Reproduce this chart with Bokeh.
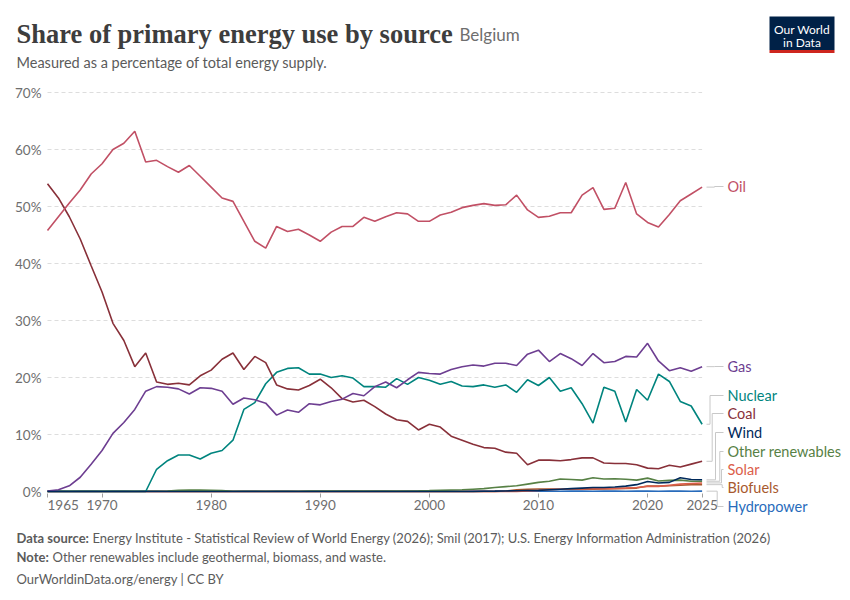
from bokeh.plotting import figure
from bokeh.models import Range1d, FixedTicker, ColumnDataSource
from bokeh.core.properties import value
from bokeh.embed import file_html
from bokeh.resources import INLINE

# ---------------- data ----------------
years = list(range(1965, 2026))

oil = [45.8, 48.2, 50.6, 52.9, 55.7, 57.5, 60.0, 61.1, 63.2, 57.8,
       58.1, 57.0, 56.0, 57.2, 55.3, 53.4, 51.5, 50.9, 47.4, 43.9,
       42.7, 46.5, 45.6, 46.0, 45.0, 43.9, 45.5, 46.5, 46.5, 48.1,
       47.4, 48.2, 48.9, 48.7, 47.4, 47.4, 48.5, 49.0, 49.8, 50.2,
       50.5, 50.2, 50.3, 52.0, 49.4, 48.1, 48.3, 48.9, 48.9, 52.0,
       53.3, 49.5, 49.7, 54.2, 48.7, 47.2, 46.4, 48.6, 51.0, 52.2,
       53.4]

coal = [54.0, 51.5, 48.2, 44.3, 39.6, 35.0, 29.5, 26.5, 21.9, 24.3,
        19.2, 18.8, 19.0, 18.7, 20.3, 21.3, 23.2, 24.3, 21.4, 23.7,
        22.6, 18.7, 18.0, 17.8, 18.6, 19.7, 18.2, 16.3, 15.7, 16.0,
        14.9, 13.6, 12.6, 12.3, 10.8, 11.8, 11.3, 9.7, 9.0, 8.3,
        7.7, 7.6, 6.9, 6.7, 4.7, 5.5, 5.5, 5.4, 5.6, 5.9,
        5.9, 5.0, 4.9, 4.9, 4.7, 4.1, 4.0, 4.6, 4.3, 4.8,
        5.3]

gas = [0.1, 0.3, 1.0, 2.5, 4.8, 7.2, 10.2, 12.1, 14.4, 17.6,
       18.4, 18.3, 18.0, 17.1, 18.2, 18.1, 17.6, 15.3, 16.4, 16.1,
       15.5, 13.4, 14.3, 13.9, 15.4, 15.2, 15.8, 16.2, 17.2, 16.8,
       18.4, 19.2, 18.2, 19.6, 20.9, 20.7, 20.6, 21.4, 21.9, 22.2,
       22.0, 22.5, 22.5, 22.1, 24.1, 24.8, 22.8, 24.2, 23.3, 22.1,
       24.2, 22.6, 22.8, 23.7, 23.6, 26.0, 22.9, 21.2, 21.7, 21.1,
       21.9]

nuclear = [0, 0, 0, 0, 0, 0, 0, 0, 0, 0,
           3.9, 5.4, 6.4, 6.4, 5.7, 6.7, 7.2, 9.0, 14.4, 15.6,
           18.9, 20.9, 21.6, 21.7, 20.6, 20.6, 20.0, 20.3, 19.9, 18.4,
           18.4, 18.3, 19.8, 18.8, 20.0, 19.5, 18.8, 19.3, 18.5, 18.4,
           18.7, 18.3, 18.7, 17.4, 19.6, 18.6, 20.0, 17.6, 18.2, 15.4,
           12.0, 18.3, 17.6, 12.2, 17.9, 16.0, 20.6, 19.3, 15.8, 15.0,
           11.8]

wind = [0] * 40 + [0.05, 0.07, 0.1, 0.12, 0.17, 0.2, 0.3, 0.4, 0.5, 0.6,
                   0.7, 0.7, 0.8, 0.95, 1.2, 1.75, 1.5, 1.6, 2.4, 2.1,
                   2.05]

other_renewables = ([0.05] * 11 + [0.1, 0.2, 0.25, 0.25, 0.2, 0.15] + [0.05] * 7 + [0.1] * 10 +
                    [0.12, 0.15, 0.2, 0.25, 0.3, 0.4, 0.5, 0.7, 0.85, 1.0,
                     1.3, 1.6, 1.8, 2.2, 2.1, 2.0, 2.4, 2.2, 2.25, 2.15,
                     2.0, 2.35, 1.85, 1.95, 2.0, 1.8, 1.8])

solar = [0] * 44 + [0.1, 0.2, 0.35, 0.4, 0.45, 0.45, 0.5, 0.5, 0.55, 0.6,
                    0.7, 0.9, 0.9, 1.1, 1.3, 1.4, 1.5]

biofuels = [0] * 42 + [0.1, 0.3, 0.4, 0.45, 0.45, 0.4, 0.4, 0.4, 0.4, 0.45,
                       0.5, 0.55, 0.6, 0.95, 0.95, 1.0, 1.1, 1.2, 1.2]

hydropower = [0.06, 0.06, 0.05, 0.06, 0.06, 0.05, 0.06, 0.06, 0.05, 0.06,
              0.06, 0.05, 0.06, 0.06, 0.05, 0.06, 0.06, 0.05, 0.06, 0.06,
              0.05, 0.06, 0.06, 0.05, 0.06, 0.06, 0.05, 0.06, 0.06, 0.05,
              0.06, 0.06, 0.05, 0.06, 0.06, 0.05, 0.06, 0.06, 0.05, 0.06,
              0.06, 0.05, 0.06, 0.06, 0.05, 0.06, 0.06, 0.05, 0.06, 0.06,
              0.05, 0.06, 0.06, 0.05, 0.06, 0.06, 0.05, 0.06, 0.06, 0.05,
              0.06]

y_ticks = [0, 10, 20, 30, 40, 50, 60, 70]
y_tick_labels = ["0%", "10%", "20%", "30%", "40%", "50%", "60%", "70%"]
x_ticks = [1965, 1970, 1980, 1990, 2000, 2010, 2020, 2025]

series = {
    "Oil": oil, "Gas": gas, "Nuclear": nuclear, "Coal": coal, "Wind": wind,
    "Other renewables": other_renewables, "Solar": solar, "Biofuels": biofuels,
    "Hydropower": hydropower,
}
colors = {
    "Oil": "#c15065", "Gas": "#6d3e91", "Nuclear": "#00847e", "Coal": "#883039",
    "Wind": "#00295b", "Other renewables": "#578145", "Solar": "#dc5e4a",
    "Biofuels": "#a8592e", "Hydropower": "#286bbb",
}
draw_order = ["Hydropower", "Biofuels", "Solar", "Other renewables", "Nuclear",
              "Coal", "Gas", "Oil", "Wind"]

# ---------------- layout: page pixel -> data helpers ----------------
PX_YEAR = 10.91
PX_PCT = 5.7
X0_PAGE, Y0_PAGE = 47, 491   # page position of (1965, 0%)
ORIGIN = 0                   # the page renders the canvas at its top-left corner
W, H = 850, 600


def dx(px):
    return 1965 + (px - X0_PAGE) / PX_YEAR


def dy(py):
    return (Y0_PAGE - py) / PX_PCT


p = figure(width=W, height=H,
           x_range=Range1d(dx(ORIGIN), dx(ORIGIN + W)), y_range=Range1d(dy(ORIGIN + H), dy(ORIGIN)),
           output_backend="svg", toolbar_location=None,
           min_border=0, min_border_left=0, min_border_right=0, min_border_top=0, min_border_bottom=0)
p.outline_line_color = None
p.background_fill_color = "white"
p.border_fill_color = "white"
p.xgrid.visible = False
p.ygrid.visible = False

AXIS_FONT_SIZE = "13.5px"
AXIS_COLOR = "#6e6e6e"

# y axis (drawn at the left edge of the data area)
p.yaxis.fixed_location = dx(44)
p.yaxis.ticker = FixedTicker(ticks=y_ticks)
p.yaxis.major_label_overrides = {t: l for t, l in zip(y_ticks, y_tick_labels)}
p.yaxis.axis_line_color = None
p.yaxis.major_tick_line_color = None
p.yaxis.major_tick_out = 0
p.yaxis.major_tick_in = 0
p.yaxis.minor_tick_line_color = None
p.yaxis.major_label_standoff = 3
p.yaxis.major_label_text_font = "Lato"
p.yaxis.major_label_text_font_size = AXIS_FONT_SIZE
p.yaxis.major_label_text_color = AXIS_COLOR

# x axis
p.xaxis.fixed_location = dy(493)
p.xaxis.ticker = FixedTicker(ticks=x_ticks)
p.xaxis.bounds = (years[0], years[-1])
p.xaxis.axis_line_color = None
p.xaxis.major_tick_line_color = "#a0a0a0"
p.xaxis.major_tick_in = 0
p.xaxis.major_tick_out = 4
p.xaxis.minor_tick_line_color = None
p.xaxis.major_label_standoff = 2
p.xaxis.major_label_text_font = "Lato"
p.xaxis.major_label_text_font_size = AXIS_FONT_SIZE
p.xaxis.major_label_text_color = AXIS_COLOR
# the first tick label is left-aligned at its tick (as in the original chart)
p.xaxis.major_label_overrides = {x_ticks[0]: ""}
p.text(x=[x_ticks[0]], y=[dy(504.5)], text=[str(x_ticks[0])], text_font=value("Lato"),
       text_font_size=AXIS_FONT_SIZE, text_color=AXIS_COLOR, text_baseline="middle", text_align="left")

# dashed grid lines at the y ticks
p.segment(x0=[years[0]] * len(y_ticks), x1=[years[-1]] * len(y_ticks), y0=y_ticks, y1=y_ticks,
          line_color="#dddddd", line_width=1, line_dash="4 3")

# series lines
for name in draw_order:
    p.line(years, series[name], line_color=colors[name], line_width=1.6)

# end labels with connectors
label_names = ["Oil", "Gas", "Nuclear", "Coal", "Wind", "Other renewables", "Solar", "Biofuels", "Hydropower"]
label_py = [186, 366, 395, 413, 432, 451, 469, 487, 506]
elbow_px = [714, 714, 709.5, 711.7, 715, 719.3, 721, 721.7, 716.7]
conn_xs, conn_ys = [], []
for name, ly, xe in zip(label_names, label_py, elbow_px):
    v = series[name][-1]
    conn_xs.append([dx(706), dx(xe), dx(xe), dx(723)])
    conn_ys.append([v, v, dy(ly), dy(ly)])
p.multi_line(conn_xs, conn_ys, line_color="#c8c8c8", line_width=1)

lab_src = ColumnDataSource(dict(x=[dx(727)] * len(label_names), y=[dy(v) for v in label_py],
                                text=label_names, color=[colors[n] for n in label_names]))
p.text(x="x", y="y", text="text", text_color="color", source=lab_src, text_font=value("Lato"),
       text_font_size="14.5px", text_baseline="middle", text_align="left")


def txt(px, py, s, font="Lato", size="13px", color="#5b5b5b", style="normal", align="left"):
    p.text(x=[dx(px)], y=[dy(py)], text=[s], text_font=value(font), text_font_size=size,
           text_color=color, text_font_style=style, text_baseline="middle", text_align=align)


# header
txt(16, 33, "Share of primary energy use by source", font="Liberation Serif", size="26.5px",
    color="#3d3d3d", style="bold")
txt(459, 34, "Belgium", size="17px", color="#6e6e6e")
txt(16, 62, "Measured as a percentage of total energy supply.", size="14.5px", color="#5b5b5b")

# logo
p.quad(left=[dx(769)], right=[dx(834)], top=[dy(16)], bottom=[dy(49.5)], fill_color="#002147", line_color=None)
p.quad(left=[dx(769)], right=[dx(834)], top=[dy(49.5)], bottom=[dy(52.5)], fill_color="#ce261e", line_color=None)
txt(801.5, 29, "Our World", size="12px", color="white", align="center")
txt(801.5, 42, "in Data", size="12px", color="white", align="center")

# footer
txt(16, 537, "Data source:", style="bold")
txt(92, 537, "Energy Institute - Statistical Review of World Energy (2026); Smil (2017); U.S. Energy Information Administration (2026)")
txt(16, 556, "Note:", style="bold")
txt(52, 556, "Other renewables include geothermal, biomass, and waste.")
txt(16, 578, "OurWorldinData.org/energy | CC BY")

open("out.html", "w").write(file_html(p, INLINE))
